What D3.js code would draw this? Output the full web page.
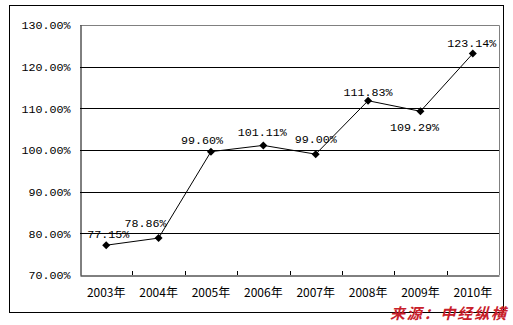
<!DOCTYPE html>
<html>
<head>
<meta charset="utf-8">
<script src="https://cdn.jsdelivr.net/npm/d3@7/dist/d3.min.js"></script>
<style>
body { margin: 0; background: #fff; }
</style>
</head>
<body>
<div id="chart"></div>
<script>
// 数据
const years = ["2003年", "2004年", "2005年", "2006年", "2007年", "2008年", "2009年", "2010年"]
const rates = [77.15, 78.86, 99.60, 101.11, 99.00, 111.83, 109.29, 123.14]
const yTicks = [70, 80, 90, 100, 110, 120, 130]
// 数据标签相对于点的偏移
const labelOffset = [[2, -11], [-13, -15], [-9, -12], [-1, -13], [0, -15], [0, -9], [-6, 16], [-1, -11]]

const width = 513, height = 325
const plot = { left: 80, top: 25, right: 499, bottom: 275 }
const numFont = "'Liberation Mono', 'DejaVu Sans Mono', monospace"

let svg = d3.select("#chart").append("svg")
    .attr("width", width)
    .attr("height", height)

//外框
svg.append("rect")
    .attr("x", 9.5).attr("y", 5.5)
    .attr("width", 494).attr("height", 307)
    .attr("fill", "#fff")
    .attr("stroke", "#000")

let x = d3.scaleBand().domain(years).range([plot.left, plot.right])
let y = d3.scaleLinear().domain([70, 130]).range([plot.bottom, plot.top])

//网格线
svg.append("g")
    .selectAll("line")
    .data(yTicks.slice(1, -1))
    .enter()
    .append("line")
    .attr("x1", plot.left).attr("x2", plot.right)
    .attr("y1", (d) => Math.round(y(d)) + 0.5)
    .attr("y2", (d) => Math.round(y(d)) + 0.5)
    .attr("stroke", "#000")

//绘图区的灰色边
svg.append("path")
    .attr("d", `M${plot.left},${plot.top + 0.5}H${plot.right + 0.5}V${plot.bottom}`)
    .attr("fill", "none")
    .attr("stroke", "#808080")

//y轴
let yAxis = svg.append("g")
    .attr("transform", `translate(${plot.left + 0.5},0)`)
    .call(d3.axisLeft(y).tickValues(yTicks).tickSize(0).tickPadding(10)
        .tickFormat((d) => d.toFixed(2) + "%"))
yAxis.select(".domain").attr("stroke", "#000")
yAxis.selectAll("text")
    .attr("font-family", numFont)
    .attr("font-size", 11.7)
    .attr("fill", "#000")

//x轴
let xAxis = svg.append("g")
    .attr("transform", `translate(0,${plot.bottom + 0.5})`)
    .call(d3.axisBottom(x).tickSize(0).tickPadding(13))
xAxis.select(".domain").attr("stroke", "#000")
xAxis.selectAll("text")
    .attr("font-family", "'Noto Sans CJK SC', sans-serif")
    .attr("font-size", 12)
    .attr("fill", "#000")
//刻度线在类别之间
svg.append("g")
    .selectAll("line")
    .data(years.slice(1))
    .enter()
    .append("line")
    .attr("x1", (d) => Math.round(x(d)) + 0.5)
    .attr("x2", (d) => Math.round(x(d)) + 0.5)
    .attr("y1", plot.bottom - 4)
    .attr("y2", plot.bottom)
    .attr("stroke", "#000")

let cx = (i) => x(years[i]) + x.bandwidth() / 2

//折线
let line = d3.line()
    .x((d, i) => cx(i))
    .y((d) => y(d))
svg.append("path")
    .datum(rates)
    .attr("d", line)
    .attr("fill", "none")
    .attr("stroke", "#000")
    .attr("stroke-width", 1)

//菱形点
svg.append("g")
    .selectAll("path")
    .data(rates)
    .enter()
    .append("path")
    .attr("d", "M0,-4L4,0L0,4L-4,0Z")
    .attr("transform", (d, i) => `translate(${cx(i)},${y(d)})`)
    .attr("fill", "#000")

//数据标签
svg.append("g")
    .selectAll("text")
    .data(rates)
    .enter()
    .append("text")
    .attr("x", (d, i) => cx(i) + labelOffset[i][0])
    .attr("y", (d, i) => y(d) + labelOffset[i][1])
    .attr("dy", "0.35em")
    .attr("text-anchor", "middle")
    .attr("font-family", numFont)
    .attr("font-size", 11.7)
    .attr("fill", "#000")
    .text((d) => d.toFixed(2) + "%")

//来源
svg.append("text")
    .attr("x", 390)
    .attr("y", 319)
    .attr("font-family", "'Noto Sans CJK SC', sans-serif")
    .attr("font-size", 15)
    .attr("font-weight", "bold")
    .attr("font-style", "italic")
    .attr("fill", "#c8202a")
    .attr("textLength", 116)
    .text("来源：中经纵横")
</script>
</body>
</html>
